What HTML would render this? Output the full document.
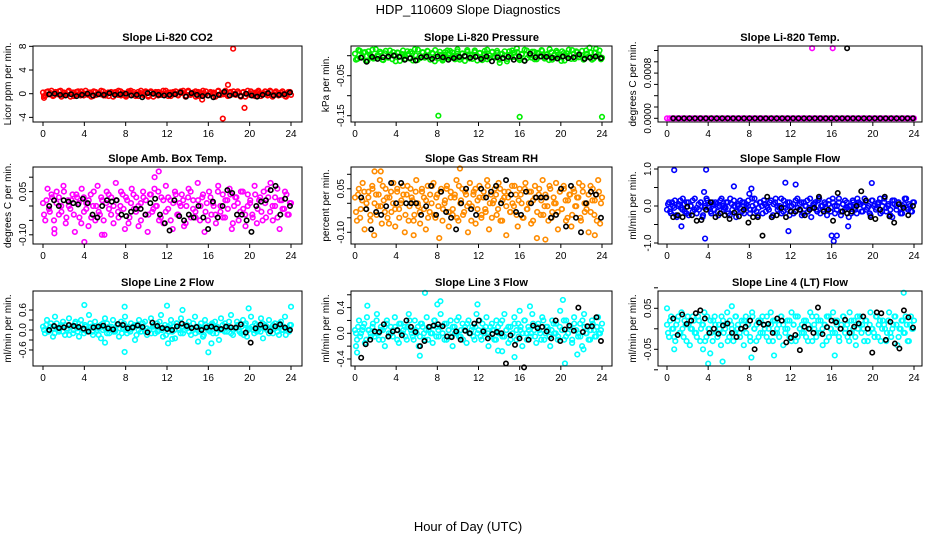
<!DOCTYPE html>
<html><head><meta charset="utf-8"><style>
html,body{margin:0;padding:0;background:#fff;}
svg{display:block;font-family:"Liberation Sans",sans-serif;}
</style></head><body>
<svg id="chart" width="936" height="540" viewBox="0 0 936 540" xmlns="http://www.w3.org/2000/svg">
<text x="468" y="14" text-anchor="middle" font-size="13">HDP_110609  Slope Diagnostics</text>
<text x="468" y="531" text-anchor="middle" font-size="13">Hour of Day (UTC)</text>
</svg>
<script>
const xTicks = [0,4,8,12,16,20,24];
const titles = ["Slope Li-820 CO2","Slope Li-820 Pressure","Slope Li-820 Temp.","Slope Amb. Box Temp.","Slope Gas Stream RH","Slope Sample Flow","Slope Line 2 Flow","Slope Line 3 Flow","Slope Line 4 (LT) Flow"];
const yLabels = ["Licor ppm per min.","kPa per min.","degrees C per min.","degrees C per min.","percent per min.","ml/min per min.","ml/min per min.","ml/min per min.","ml/min per min."];
const yTickVals = [[-4,0,4,8],[-0.15,-0.1,-0.05,0],[0,0.0002,0.0004,0.0006,0.0008,0.001,0.0012],[-0.1,-0.05,0,0.05,0.1],[-0.1,-0.05,0,0.05,0.1],[-1,-0.5,0,0.5,1],[-0.6,-0.3,0,0.3,0.6],[-0.4,-0.2,0,0.2,0.4,0.6],[-0.1,-0.05,0,0.05,0.1]];
const yTickLabels = [["-4","0","4","8"],["-0.15","","-0.05",""],["0.0000","","","","0.0008","",""],["-0.10","","","0.05",""],["-0.10","","","0.05",""],["-1.0","","0.0","","1.0"],["-0.6","","0.0","","0.6"],["-0.4","","0.0","","0.4",""],["","-0.05","","0.05",""]];

const co2Main = [0.2,-0.3,0.4,0.1,-0.4,0.3,-0.1,0.5,-0.2,0.0,0.3,-0.5,0.2,-0.1,0.4,-0.3,0.1,0.5,-0.2,0.2,-0.4,0.3,0.0,-0.1,0.4,-0.3,0.2,0.1,-0.5,0.3,-0.2,0.4,0.0,-0.3,0.2,0.5,-0.1,-0.4,0.3,0.1,-0.2,0.4,-0.5,0.2,0.0,0.3,-0.3,0.1,0.5,-0.1,0.2,-0.4,0.3,0.0,-0.2,0.4,0.1,-0.3,0.5,-0.1,0.2,-0.5,0.3,0.0,-0.2,0.4,-0.3,0.1,0.2,-0.4,0.5,0.0,-0.1,0.3,-0.3,0.2,0.4,-0.2,0.1,-0.5,0.3,0.0,-0.1,0.4,-0.3,0.2,0.5,-0.4,0.1,0.0,-0.2,0.3,-0.1,0.4,-0.3,0.2,0.0,-0.5,0.3,-0.2];
const co2Main2 = [-0.4,0.3,-0.1,0.5,-0.3,0.1,0.4,-0.5,0.2,-0.2,0.5,0.0,-0.4,0.3,-0.1,0.4,-0.3,0.0,0.2,-0.5,0.4,-0.2,0.1,0.5,-0.3,0.0,-0.4,0.3,0.2,-0.1,0.5,-0.3,0.1,-0.5,0.4,-0.2,0.3,0.0,-0.4,0.5,-0.1,0.2,-0.3,0.4,-0.5,0.1,0.3,-0.2,0.0,0.5,-0.4,0.2,-0.1,0.4,-0.3,0.1,0.5,-0.5,0.3,-0.2,0.0,0.4,-0.4,0.2,0.5,-0.1,-0.3,0.3,0.0,-0.5,0.4,-0.2,0.1,0.5,-0.4,0.3,-0.1,0.0,0.4,-0.3,0.2,-0.5,0.5,-0.2,0.1,-0.4,0.3,0.0,-0.1,0.4,-0.3,0.5,-0.5,0.2,0.0,-0.2,0.4,-0.4,0.1,0.3];
const co2Black = [-0.1,0.0,-0.2,-0.3,-0.1,-0.4,-0.2,0.0,-0.3,-0.1,-0.2,0.1,-0.2,-0.1,0.0,-0.3,-0.2,-0.6,0.1,0.0,-0.2,-0.3,-0.2,-0.1,0.2,-0.5,0.1,-0.2,-0.4,-0.3,-0.6,-0.2,0.3,-0.3,-0.1,-0.4,0.0,-0.3,-0.5,-0.2,0.1,-0.3,-0.2,-0.1,0.2];
const co2OutHours = [0.1,15.4,17.4,17.9,18.4,19.5];
const co2OutVals = [-0.7,-1.0,-4.2,1.5,7.6,-2.4];

const presMain = [0.005,-0.008,0.012,-0.002,0.009,-0.012,0.003,0.015,-0.006,0.001,0.010,-0.010,0.006,-0.004,0.013,-0.009,0.002,0.008,-0.013,0.004,-0.001,0.011,-0.007,0.006,0.016,-0.011,0.000,0.009,-0.005,0.012,-0.003,0.007,-0.014,0.004,0.010,-0.008,0.002,0.013,-0.006,0.008,-0.002,0.011,-0.010,0.005,0.000,0.014,-0.007,0.003,0.009,-0.012,0.006,-0.004,0.012,-0.009,0.001,0.010,-0.005,0.007,-0.018,0.004,0.011,-0.008,0.002,0.013,-0.003,0.009,-0.011,0.005,0.015,-0.006,0.000,0.010,-0.009,0.007,-0.002,0.012,-0.007,0.004,0.016,-0.010,0.003,0.008,-0.004,0.011,-0.012,0.006,0.001,0.014,-0.008,0.009,-0.003,0.012,-0.006,0.005,0.020,-0.010,0.008,-0.001,0.013,-0.005];
const presMain2 = [-0.010,0.014,-0.004,0.008,-0.013,0.011,0.000,-0.007,0.016,-0.002,0.006,-0.011,0.012,-0.005,0.003,0.009,-0.014,0.007,-0.001,0.013,-0.008,0.004,0.010,-0.012,0.001,0.015,-0.006,0.008,-0.003,0.011,-0.010,0.005,0.014,-0.007,0.002,-0.012,0.009,-0.004,0.012,0.000,-0.009,0.016,-0.005,0.006,-0.013,0.010,0.003,-0.008,0.013,-0.001,0.007,-0.011,0.004,0.015,-0.006,0.009,-0.002,0.012,-0.010,0.005,0.001,-0.014,0.011,-0.004,0.008,0.018,-0.007,0.003,-0.012,0.013,0.000,-0.005,0.010,-0.009,0.006,0.014,-0.003,0.002,-0.011,0.009,-0.006,0.012,0.004,-0.013,0.007,-0.001,0.015,-0.008,0.005,0.011,-0.004,0.001,-0.010,0.013,-0.002,0.008,-0.007,0.017,0.003,-0.009];
const presBlack = [-0.005,-0.015,-0.003,-0.008,-0.004,-0.002,0.000,-0.003,-0.010,-0.006,-0.012,-0.004,-0.002,-0.008,-0.002,-0.004,-0.010,-0.006,-0.003,-0.001,-0.005,-0.003,-0.008,-0.002,-0.014,-0.004,-0.006,-0.003,-0.010,-0.002,-0.013,0.005,-0.004,-0.002,-0.003,-0.005,-0.007,-0.002,-0.006,-0.004,0.003,-0.008,-0.005,-0.002,-0.006];
const presOutHours = [8.1,16.0,24.0];
const presOutVals = [-0.150,-0.153,-0.153];

const tempMain = [0,0,0,0,0,0,0,0,0,0,0,0,0,0,0,0,0,0,0,0,0,0,0,0,0,0,0,0,0,0,0,0,0,0,0,0,0,0,0,0,0,0,0,0,0,0,0,0,0,0,0,0,0,0,0,0,0,0,0,0,0,0,0,0,0,0,0,0,0,0,0,0,0,0,0,0,0,0,0,0,0,0,0,0,0,0,0,0,0,0,0,0,0,0,0,0,0,0,0,0];
const tempMain2 = [];
const tempBlack = [0,0,0,0,0,0,0,0,0,0,0,0,0,0,0,0,0,0,0,0,0,0,0,0,0,0,0,0,0,0,0,0,0,0,0,0,0,0,0,0,0,0,0,0,0];
const tempOutHours = [14.1,16.1];
const tempOutVals = [0.00124,0.00124];
const tempBlackOutHours = [17.5];
const tempBlackOutVals = [0.00124];

const boxMain = [0.01,-0.05,0.06,-0.02,0.03,-0.08,0.05,-0.03,0.00,0.07,-0.06,0.02,-0.01,0.04,-0.09,0.03,-0.04,0.06,-0.02,0.01,-0.07,0.04,0.00,-0.05,0.07,-0.03,0.02,-0.10,0.05,-0.01,0.03,-0.06,0.08,-0.02,0.00,0.04,-0.08,0.02,-0.04,0.06,-0.01,0.03,-0.07,0.01,0.05,-0.03,-0.09,0.04,-0.02,0.06,0.00,-0.05,0.03,-0.06,0.07,-0.01,0.02,-0.08,0.05,-0.03,0.01,0.04,-0.07,0.00,0.06,-0.04,0.02,-0.02,0.08,-0.05,0.03,-0.09,0.01,0.05,-0.03,0.00,-0.06,0.07,-0.02,0.04,-0.04,0.02,0.06,-0.08,0.00,0.03,-0.05,0.05,-0.01,-0.07,0.04,0.01,-0.03,0.07,-0.06,0.02,-0.02,0.05,-0.04,0.03,0.08,-0.05,0.00,0.06,-0.08,0.02,-0.01,0.04,-0.03,0.01];
const boxMain2 = [-0.03,0.02,-0.01,0.04,-0.05,0.01,0.03,-0.02,0.05,-0.04,0.00,0.02,-0.03,0.04,0.01,-0.06,0.03,-0.01,0.02,-0.04,0.05,0.00,-0.02,0.03,-0.05,0.01,0.04,-0.03,0.00,0.02,-0.04,0.05,-0.01,0.03,-0.06,0.01,0.04,-0.02,0.00,-0.05,0.03,0.02,-0.03,0.04,-0.01,0.00,0.05,-0.04,0.02,-0.02,0.03,-0.05,0.01,0.04,-0.03,0.00,0.02,-0.06,0.03,0.05,-0.01,-0.04,0.02,0.00,0.04,-0.02,-0.05,0.03,0.01,-0.03,0.05,0.00,-0.04,0.02,-0.01,0.04,-0.06,0.03,0.01,-0.02,0.05,-0.03,0.00,0.02,-0.04,0.04,-0.01,0.03,-0.05,0.01,0.06,-0.02,0.00,0.03,-0.04,0.02,-0.01,0.05,-0.03,0.01];
const boxBlack = [0.0,0.02,0.0,0.02,0.015,0.01,0.005,0.025,0.01,-0.03,-0.04,0.0,0.02,0.015,0.02,-0.03,-0.035,-0.02,-0.01,-0.01,-0.03,0.01,0.025,-0.03,-0.06,-0.085,0.02,-0.035,-0.05,-0.03,-0.04,0.0,-0.04,-0.08,0.015,-0.04,0.0,0.055,0.045,-0.03,-0.03,-0.05,-0.09,0.0,0.015,0.02,0.055,0.07,-0.03,0.025,0.0];
const boxOutHours = [11.2,4.0,5.7,1.1,10.8];
const boxOutVals = [0.12,-0.125,-0.1,-0.095,0.1];

const rhMain = [0.02,-0.06,0.05,-0.02,0.07,-0.09,0.00,0.04,-0.04,0.06,-0.11,0.03,-0.01,0.08,-0.07,0.01,0.05,-0.05,0.02,-0.03,0.07,-0.08,0.04,-0.02,0.00,0.06,-0.10,0.03,-0.06,0.05,0.01,-0.04,0.08,-0.01,-0.07,0.04,0.02,-0.09,0.06,-0.03,0.00,0.07,-0.05,0.03,-0.12,0.05,-0.02,0.01,0.06,-0.08,0.04,-0.04,0.02,0.08,-0.06,0.00,0.05,-0.03,0.03,-0.10,0.07,-0.01,0.04,-0.07,0.01,0.06,-0.05,0.02,-0.02,0.08,-0.09,0.03,0.00,0.05,-0.04,0.07,-0.06,0.01,0.04,-0.11,0.02,-0.03,0.06,-0.01,0.03,-0.08,0.05,0.00,-0.05,0.07,-0.02,0.04,-0.07,0.01,0.06,-0.12,0.03,-0.04,0.08,-0.01,0.02,-0.06,0.05,-0.03,0.00,0.07,-0.09,0.04,-0.02,0.06,0.01,-0.05,0.03,-0.08,0.05,-0.01,0.02,0.07,-0.06,0.04,-0.03,0.00,-0.10,0.06,0.01,-0.04,0.03,0.08,-0.07,0.02];
const rhMain2 = [-0.03,0.03,-0.05,0.01,0.04,-0.02,0.02,-0.06,0.05,0.00,-0.04,0.03,-0.01,0.06,-0.03,0.02,-0.07,0.04,0.00,-0.02,0.05,-0.05,0.01,0.03,-0.04,0.06,-0.01,0.02,-0.06,0.04,0.00,-0.03,0.05,-0.02,0.01,-0.05,0.03,0.06,-0.04,0.02,-0.01,0.04,-0.06,0.00,0.05,-0.03,0.02,-0.02,0.03,-0.05,0.06,0.01,-0.04,0.04,-0.01,0.00,-0.06,0.03,0.05,-0.02,0.02,-0.04,0.04,-0.03,0.06,0.00,-0.05,0.01,0.03,-0.02,0.05,-0.06,0.02,-0.01,0.04,-0.03,0.00,0.06,-0.04,0.01,0.03,-0.05,0.05,-0.02,0.00,0.04,-0.06,0.02,-0.03,0.05,0.01,-0.04,0.03,-0.01,0.06,-0.05,0.02,0.00,-0.03,0.04,-0.02,0.05,-0.06,0.01,0.03,-0.04,0.04,-0.01,0.02,-0.05,0.06,0.00,-0.02,0.03,-0.03,0.05,0.01,-0.06,0.04,0.00];
const rhBlack = [0.02,-0.02,-0.09,-0.03,-0.04,-0.01,0.07,0.00,0.07,0.0,0.0,0.0,-0.04,-0.01,0.06,-0.04,0.04,-0.03,-0.05,-0.09,0.0,0.05,-0.02,-0.04,0.05,0.02,0.04,0.06,0.0,0.08,0.03,-0.03,-0.04,0.04,0.00,0.02,0.02,0.02,-0.05,-0.04,0.05,-0.08,0.06,-0.05,-0.10,0.0,0.04,0.03,-0.05];
const rhOutHours = [10.2,18.5,5.7,1.9,2.5,23.3];
const rhOutVals = [0.12,-0.125,-0.11,0.11,0.11,-0.11];

const flowMain = [-0.1,0.1,-0.2,0.0,0.15,-0.3,0.05,-0.05,0.2,-0.15,0.1,-0.25,0.0,0.15,-0.1,-0.2,0.05,0.1,-0.3,-0.05,0.2,0.0,-0.15,0.1,-0.1,0.05,-0.25,0.15,0.0,-0.05,0.1,-0.2,0.2,-0.1,0.0,-0.3,0.05,0.15,-0.15,0.1,-0.05,0.0,-0.2,0.2,-0.1,0.05,-0.25,0.1,0.0,0.15,-0.15,-0.05,0.1,-0.3,0.05,0.2,-0.1,0.0,-0.2,0.15,-0.05,0.1,-0.25,0.0,0.05,-0.15,0.2,-0.1,0.1,-0.2,0.0,0.15,-0.05,-0.3,0.05,0.1,-0.15,0.2,0.0,-0.1,0.05,-0.25,0.15,-0.05,0.1,-0.2,0.0,0.2,-0.15,0.05,-0.1,0.1,-0.3,0.0,0.15,-0.05,-0.2,0.1,0.05,-0.15,0.2,-0.1,0.0,-0.25,0.15,0.05,-0.05,0.1,-0.2,0.0,0.2,-0.15,0.05,-0.1,-0.3,0.15,0.0,0.1,-0.05,-0.2,0.05,0.2,-0.1,0.0,-0.15,0.1];
const flowMain2 = [0.05,-0.15,0.1,-0.05,-0.25,0.0,0.15,-0.1,0.05,-0.2,0.1,0.0,-0.15,0.2,-0.05,-0.1,0.1,-0.25,0.0,0.15,-0.05,-0.2,0.05,0.1,-0.15,0.0,0.2,-0.1,-0.05,0.1,-0.25,0.05,0.15,-0.15,0.0,-0.05,0.1,-0.2,0.05,0.15,-0.1,0.0,0.2,-0.15,-0.05,0.1,-0.2,0.05,0.0,-0.1,0.15,-0.25,0.1,0.0,-0.05,0.2,-0.15,0.05,-0.1,0.1,0.0,-0.2,0.15,-0.05,0.05,-0.25,0.1,0.0,-0.15,0.2,-0.05,0.05,-0.1,0.15,-0.2,0.0,0.1,-0.05,0.05,-0.15,0.2,0.0,-0.1,0.1,-0.25,0.05,0.15,-0.05,0.0,-0.2,0.1,-0.1,0.2,0.05,-0.15,0.0,0.1,-0.05,-0.2,0.15,0.0,-0.1,0.05,0.2,-0.15,0.1,-0.05,0.0,-0.25,0.15,0.05,-0.1,0.1,-0.2,0.0,0.2,-0.05,0.05,-0.15,0.1];
const flowBlack = [-0.3,-0.25,-0.3,-0.02,-0.25,-0.4,-0.38,-0.1,0.1,-0.3,-0.2,-0.25,-0.35,-0.18,-0.28,-0.1,-0.45,-0.3,-0.3,-0.8,0.25,-0.3,-0.25,-0.05,-0.3,-0.15,-0.15,-0.1,-0.25,-0.1,-0.05,0.25,-0.15,-0.1,-0.4,0.35,-0.15,-0.2,-0.15,0.0,0.4,0.15,-0.3,-0.35,-0.1,0.25,-0.28,-0.45,0.05,-0.05,-0.25,0.0];
const flowOutHours = [0.7,3.8,3.7,16.0,16.2,16.5,6.5,8.2,11.5,12.5,19.9,11.8,1.4,8.0,3.6,17.6];
const flowOutVals = [0.97,0.98,-0.88,-0.8,-0.95,-0.8,0.53,0.47,0.63,0.58,0.62,-0.68,-0.55,0.33,0.38,-0.55];

const line2Main = [0.1,-0.1,0.3,0.0,0.2,-0.2,0.4,0.05,-0.05,0.15,0.25,-0.15,0.0,0.35,0.1,-0.1,0.2,0.05,-0.2,0.3,0.0,0.15,-0.05,0.45,0.1,-0.15,0.25,0.0,0.05,-0.25,0.2,0.35,-0.1,0.1,0.0,0.3,-0.05,0.15,-0.2,0.25,0.05,0.4,-0.1,0.0,0.2,0.1,-0.3,0.15,0.3,-0.05,0.05,0.25,-0.15,0.0,0.35,0.1,-0.1,0.2,0.0,0.45,-0.2,0.15,0.05,-0.05,0.3,0.1,-0.25,0.2,0.0,0.35,-0.1,0.15,0.05,0.25,-0.15,0.0,0.4,0.1,-0.05,0.2,-0.2,0.3,0.05,0.0,0.15,-0.1,0.25,0.1,-0.3,0.35,0.0,0.2,-0.05,0.1,0.45,-0.15,0.05,0.25,0.0,-0.1,0.3,0.15,-0.2,0.05,0.4,0.0,0.2,-0.05,0.1,0.35,-0.25,0.15,0.0,0.3,0.05,-0.1,0.2,0.1,-0.15,0.25,0.0,0.4,0.05,-0.05,0.15];
const line2Main2 = [0.0,0.15,-0.05,0.1,0.05,-0.1,0.2,0.0,0.1,-0.05,0.15,0.05,-0.15,0.1,0.0,0.25,-0.05,0.05,0.15,-0.1,0.1,0.0,0.2,-0.05,0.05,0.1,-0.15,0.15,0.0,0.05,0.2,-0.1,0.1,-0.05,0.0,0.15,0.05,-0.1,0.2,0.0,0.1,-0.05,0.05,0.15,-0.15,0.0,0.1,0.2,-0.05,0.05,0.0,-0.1,0.15,0.1,-0.05,0.25,0.0,0.05,-0.15,0.1,0.15,-0.05,0.0,0.2,0.05,-0.1,0.1,0.0,0.15,-0.05,0.05,0.2,-0.1,0.0,0.1,0.05,-0.15,0.15,0.0,-0.05,0.2,0.1,-0.1,0.05,0.0,0.15,-0.05,0.1,0.25,-0.1,0.0,0.05,0.15,-0.05,0.1,-0.15,0.2,0.0,0.05,0.1,-0.1,0.15,0.0,-0.05,0.2,0.05,0.1,-0.1,0.0,0.15,0.05,-0.05,0.2,0.0,0.1,-0.15,0.05,0.15];
const line2Black = [0.0,0.12,0.06,0.08,0.15,0.12,0.09,0.04,-0.05,0.08,0.1,0.13,0.05,0.02,0.18,0.15,0.05,0.08,0.14,0.09,-0.07,0.22,0.12,0.06,0.03,0.0,0.11,0.19,0.12,0.06,0.09,0.0,0.08,0.1,0.05,0.03,0.1,0.08,0.07,0.17,-0.08,-0.38,0.05,0.16,0.08,-0.04,0.11,0.17,0.07,0.0];
const line2OutHours = [4.0,7.9,12.0,13.5,19.9,24.0,6.0,7.9,12.1,16.0,16.3,15.0,12.5];
const line2OutVals = [0.75,0.7,0.73,0.6,0.65,0.7,-0.38,-0.66,-0.4,-0.67,-0.4,-0.35,-0.27];

const line3Main = [0.05,-0.1,0.2,0.0,0.1,-0.15,0.25,0.05,-0.05,0.15,0.0,0.3,-0.1,0.1,0.05,-0.2,0.2,0.0,0.1,-0.05,0.25,0.05,-0.15,0.15,0.0,0.1,-0.1,0.3,0.05,-0.05,0.2,0.0,-0.2,0.15,0.1,-0.1,0.25,0.05,0.0,-0.15,0.2,0.1,-0.05,0.3,0.0,0.15,-0.1,0.05,0.2,-0.2,0.1,0.0,0.25,-0.05,0.15,0.05,-0.15,0.2,0.0,0.1,-0.1,0.3,0.05,-0.05,0.15,0.0,0.25,-0.2,0.1,0.05,-0.1,0.2,0.0,0.15,-0.05,0.3,0.05,-0.15,0.1,0.0,0.25,-0.1,0.15,0.05,-0.2,0.2,0.0,0.1,-0.05,0.3,0.05,-0.15,0.15,0.0,0.25,-0.1,0.1,0.05,-0.2,0.2,0.0,0.15,-0.05,0.35,0.05,-0.1,0.2,0.0,0.1,-0.15,0.25,0.05,-0.05,0.15,-0.2,0.3,0.0,0.1,-0.1,0.2,0.05,-0.05,0.25,0.0,0.15];
const line3Main2 = [0.0,0.1,-0.05,0.05,0.15,-0.1,0.05,0.0,0.1,-0.05,0.2,0.0,0.05,-0.1,0.1,0.15,-0.05,0.0,0.05,0.1,-0.1,0.15,0.0,0.05,-0.05,0.1,0.2,0.0,-0.1,0.05,0.1,-0.05,0.15,0.0,0.05,-0.1,0.1,0.0,0.2,-0.05,0.05,0.1,0.0,-0.1,0.15,0.05,-0.05,0.1,0.0,0.2,-0.05,0.05,-0.1,0.1,0.15,0.0,0.05,-0.05,0.1,0.0,0.2,-0.1,0.05,0.1,0.0,-0.05,0.15,0.05,-0.1,0.1,0.0,0.2,-0.05,0.05,0.1,-0.1,0.0,0.15,0.05,-0.05,0.1,0.0,0.2,-0.1,0.05,0.0,0.15,-0.05,0.1,0.05,-0.1,0.2,0.0,0.1,-0.05,0.05,0.15,0.0,-0.1,0.1,0.05,0.2,-0.05,0.0,0.1,-0.1,0.15,0.05,0.0,-0.05,0.2,0.1,0.0,-0.1,0.05,0.15,-0.05,0.1,0.0,0.05];
const line3Black = [-0.38,-0.17,-0.1,0.03,0.02,0.14,-0.05,0.03,0.05,-0.03,0.2,0.1,0.02,-0.2,-0.12,0.1,0.12,0.14,0.11,-0.05,-0.06,0.03,-0.1,0.04,0.0,0.15,0.2,0.03,-0.08,-0.01,0.02,0.0,-0.47,-0.03,-0.18,-0.08,-0.53,-0.1,0.12,0.08,0.1,0.03,-0.08,0.2,-0.12,0.06,0.12,0.04,0.4,0.02,0.11,0.11,0.25,-0.12];
const line3OutHours = [0.1,0.2,6.8,6.3,8.0,8.3,11.9,14.3,13.9,15.5,16.0,17.0,20.2,20.4,21.6,1.2,22.2];
const line3OutVals = [-0.2,-0.3,0.63,-0.35,0.45,0.5,0.45,-0.28,-0.27,-0.37,0.35,0.42,0.52,-0.47,-0.33,0.43,-0.25];

const line4Main = [0.01,-0.02,0.03,0.0,-0.03,0.02,-0.01,0.04,-0.02,0.01,0.03,-0.04,0.0,0.02,-0.01,0.03,-0.03,0.01,0.04,-0.02,0.0,0.02,-0.03,0.03,-0.01,0.01,-0.04,0.02,0.0,0.04,-0.02,0.01,-0.03,0.03,0.0,-0.01,0.02,-0.04,0.03,0.01,-0.02,0.04,0.0,-0.03,0.02,-0.01,0.03,0.01,-0.02,0.0,0.04,-0.03,0.02,-0.01,0.01,0.03,-0.04,0.0,0.02,-0.02,0.04,0.01,-0.03,0.03,0.0,-0.01,0.02,-0.02,0.01,0.04,-0.03,0.0,0.03,-0.01,0.02,-0.04,0.01,0.03,-0.02,0.0,0.04,-0.01,0.02,-0.03,0.01,0.03,0.0,-0.02,0.04,-0.01,0.02,-0.04,0.0,0.03,0.01,-0.03,0.02,-0.01,0.04,0.0,-0.02,0.03,0.01,-0.03,0.02,0.0,-0.01,0.04,-0.02,0.01,0.03,-0.04,0.0,0.02,-0.01,0.03,-0.03,0.01,0.0,0.02];
const line4Main2 = [-0.01,0.02,0.0,-0.02,0.01,0.03,-0.01,0.0,0.02,-0.03,0.01,0.0,0.03,-0.01,-0.02,0.02,0.0,0.01,-0.03,0.03,0.0,-0.01,0.02,0.01,-0.02,0.0,0.03,-0.01,0.01,-0.03,0.02,0.0,-0.01,0.03,0.01,-0.02,0.0,0.02,-0.01,0.01,-0.03,0.03,0.0,0.01,-0.02,0.02,-0.01,0.0,0.03,-0.03,0.01,0.02,-0.01,0.0,-0.02,0.03,0.01,-0.01,0.0,0.02,-0.03,0.01,0.03,-0.02,0.0,0.01,-0.01,0.02,-0.03,0.0,0.03,0.01,-0.02,0.02,-0.01,0.0,0.01,-0.03,0.03,0.0,-0.01,0.02,0.01,-0.02,0.0,0.03,-0.01,0.01,-0.03,0.02,0.0,-0.02,0.03,0.01,-0.01,0.0,0.02,-0.03,0.01,0.0,-0.01,0.03,-0.02,0.02,0.0,0.01,-0.03,0.02,-0.01,0.0,0.03,0.01,-0.02,0.0,0.02,-0.01,0.01,-0.03,0.03,0.0];
const line4Black = [0.025,-0.015,0.035,0.012,0.02,0.038,0.045,0.025,-0.01,0.0,-0.012,0.008,0.013,-0.01,-0.02,0.0,0.005,0.02,-0.05,0.015,0.01,0.012,-0.01,0.025,0.02,-0.033,-0.022,-0.015,-0.052,0.005,0.0,-0.01,0.052,-0.013,0.004,0.02,0.016,0.0,0.022,-0.01,0.005,0.013,0.03,0.0,-0.058,0.04,0.038,-0.027,0.017,-0.036,-0.048,0.045,0.028,0.003];
const line4OutHours = [0.0,4.0,5.4,6.3,4.2,8.2,10.4,16.3,23.0,0.7,3.5];
const line4OutVals = [0.05,-0.085,-0.08,0.055,-0.06,-0.07,-0.065,-0.065,0.088,-0.05,-0.05];

const mainSeries = [co2Main,presMain,tempMain,boxMain,rhMain,flowMain,line2Main,line3Main,line4Main];
const mainSeries2 = [co2Main2,presMain2,tempMain2,boxMain2,rhMain2,flowMain2,line2Main2,line3Main2,line4Main2];
const blackSeries = [co2Black,presBlack,tempBlack,boxBlack,rhBlack,flowBlack,line2Black,line3Black,line4Black];
const outHours = [co2OutHours,presOutHours,tempOutHours,boxOutHours,rhOutHours,flowOutHours,line2OutHours,line3OutHours,line4OutHours];
const outVals = [co2OutVals,presOutVals,tempOutVals,boxOutVals,rhOutVals,flowOutVals,line2OutVals,line3OutVals,line4OutVals];

// layout (pixels)
const colBox = [[33,302,43,291],[351,612,355,602],[658,922,667,914]];
const rowBox = [[46,122],[167,244],[291,366]];
const yMap = [[93.7,5.92],[55.7,400],[118.3,56500],[206,288],[203.3,290],[206,37],[330,33.3],[333.3,64.2],[328.8,410]];
const colors = ["#ff0000","#00ee00","#ff00ff","#ff00ff","#ff8c00","#0000ff","#00ffff","#00ffff","#00ffff"];
const NS = "http://www.w3.org/2000/svg";
const svg = document.getElementById("chart");
function mk(tag, attrs, parent){const e=document.createElementNS(NS,tag);for(const k in attrs)e.setAttribute(k,attrs[k]);(parent||svg).appendChild(e);return e;}

for (let p=0;p<9;p++){
  const c=p%3, r=Math.floor(p/3);
  const [bx0,bx1,x0,x24]=colBox[c], [by0,by1]=rowBox[r];
  const [yz,k]=yMap[p];
  const xs=h=>x0+(x24-x0)*h/24;
  const ys=v=>yz-k*v;
  const g=mk("g",{});
  
  
  const t=mk("text",{x:(bx0+bx1)/2,y:by0-5,"text-anchor":"middle","font-size":"11","font-weight":"bold"},g);
  t.textContent=titles[p];
  
  
  const yl=mk("text",{transform:`translate(${bx0-22},${(by0+by1)/2}) rotate(-90)`,"text-anchor":"middle","font-size":"10"},g);
  yl.textContent=yLabels[p];
  
  
  const clip=mk("g",{},g);
  
  
  const col=colors[p];
  const n=mainSeries[p].length;
  mainSeries[p].forEach((v,i)=>{
    const cc=mk("circle",{cx:xs(24*i/(n-1)),cy:ys(v),r:2.3,fill:"none",stroke:col,"stroke-width":1.6},clip);
    
    
  });
  const n2=mainSeries2[p].length;
  mainSeries2[p].forEach((v,i)=>{
    const cc=mk("circle",{cx:xs(0.1+23.8*i/(n2-1)),cy:ys(v),r:2.3,fill:"none",stroke:col,"stroke-width":1.6},clip);
    
    
  });
  outHours[p].forEach((h,i)=>{
    const cc=mk("circle",{cx:xs(h),cy:ys(outVals[p][i]),r:2.3,fill:"none",stroke:col,"stroke-width":1.6},clip);
    
    
  });
  const nb=blackSeries[p].length;
  blackSeries[p].forEach((v,i)=>{
    const cc=mk("circle",{cx:xs(0.6+23.3*i/(nb-1)),cy:ys(v),r:2.2,fill:"none",stroke:"#000","stroke-width":1.6},clip);
    
    
  });
  if(p===2){
    tempBlackOutHours.forEach((h,i)=>{
      const cc=mk("circle",{cx:xs(h),cy:ys(tempBlackOutVals[i]),r:2.2,fill:"none",stroke:"#000","stroke-width":1.6},clip);
      
      
    });
  }
  const box=mk("rect",{x:bx0,y:by0,width:bx1-bx0,height:by1-by0,fill:"none",stroke:"#000","stroke-width":1},g);
  
  
  xTicks.forEach(h=>{
    mk("line",{x1:xs(h),x2:xs(h),y1:by1,y2:by1+4,stroke:"#000"},g);
    const tl=mk("text",{x:xs(h),y:by1+15,"text-anchor":"middle","font-size":"10"},g);
    tl.textContent=String(h);
    
    
  });
  yTickVals[p].forEach((v,i)=>{
    const y=ys(v);
    mk("line",{x1:bx0-4,x2:bx0,y1:y,y2:y,stroke:"#000"},g);
    const lab=yTickLabels[p][i];
    if(lab){
      const tl=mk("text",{transform:`translate(${bx0-7},${y}) rotate(-90)`,"text-anchor":"middle","font-size":"10"},g);
      tl.textContent=lab;
      
      
    }
  });
}
</script>
</body></html>
